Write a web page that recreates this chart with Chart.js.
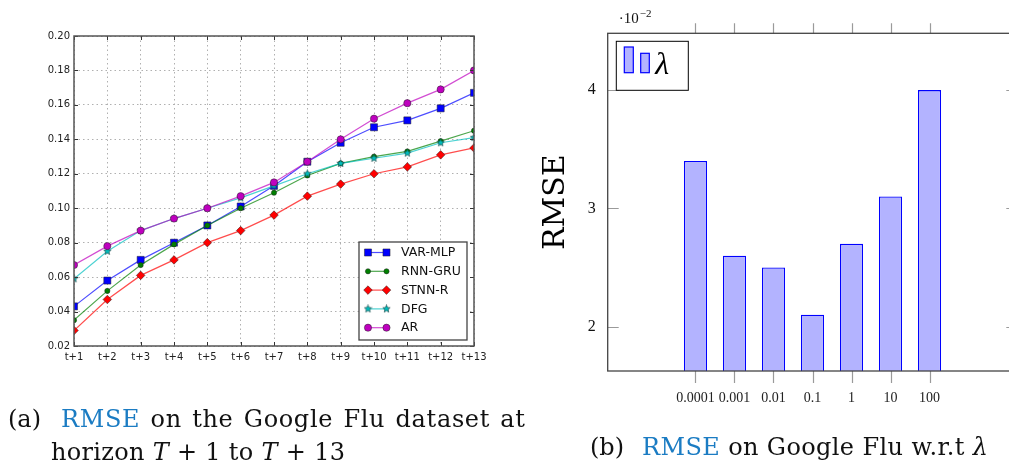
<!DOCTYPE html>
<html>
<head>
<meta charset="utf-8">
<script src="https://cdn.jsdelivr.net/npm/chart.js@4.4.1/dist/chart.umd.min.js"></script>
<style>
  html, body { margin: 0; padding: 0; background: #fff; overflow: hidden; }
  body { width: 1009px; height: 466px; position: relative; }
  #horizonChart { position: absolute; left: 0; top: 0; }
  #lambdaChart { position: absolute; left: 520px; top: 0; }
  #captions { position: absolute; left: 0; top: 0; pointer-events: none; }
</style>
</head>
<body>
<canvas id="horizonChart" width="500" height="375"></canvas>
<canvas id="lambdaChart" width="510" height="410"></canvas>
<svg id="captions" width="1009" height="466" xmlns="http://www.w3.org/2000/svg"
     font-family="DejaVu Serif" font-size="24" fill="#111">
  <text x="8" y="427">(a)</text>
  <text x="61" y="427" textLength="464" lengthAdjust="spacing" word-spacing="2"><tspan fill="#1b7cc3">RMSE</tspan> on the Google Flu dataset at</text>
  <text x="51" y="460" textLength="294" lengthAdjust="spacing">horizon <tspan font-style="italic">T</tspan> + 1 to <tspan font-style="italic">T</tspan> + 13</text>
  <text x="590" y="455">(b)</text>
  <text x="642" y="455" textLength="346" lengthAdjust="spacing"><tspan fill="#1b7cc3">RMSE</tspan> on Google Flu w.r.t <tspan font-style="italic">λ</tspan></text>
</svg>
<script>
// (a) RMSE per forecast horizon
const horizons = ['t+1', 't+2', 't+3', 't+4', 't+5', 't+6', 't+7', 't+8', 't+9', 't+10', 't+11', 't+12', 't+13'];
const varMlp = [0.043, 0.058, 0.070, 0.080, 0.090, 0.101, 0.113, 0.127, 0.138, 0.147, 0.151, 0.158, 0.167];
const rnnGru = [0.035, 0.052, 0.067, 0.079, 0.090, 0.100, 0.109, 0.119, 0.126, 0.130, 0.133, 0.139, 0.145];
const stnnR  = [0.029, 0.047, 0.061, 0.070, 0.080, 0.087, 0.096, 0.107, 0.114, 0.120, 0.124, 0.131, 0.135];
const dfg    = [0.059, 0.075, 0.087, 0.094, 0.100, 0.106, 0.113, 0.120, 0.126, 0.129, 0.132, 0.138, 0.141];
const ar     = [0.067, 0.078, 0.087, 0.094, 0.100, 0.107, 0.115, 0.127, 0.140, 0.152, 0.161, 0.169, 0.180];
const horizonTicks = [0.02, 0.04, 0.06, 0.08, 0.10, 0.12, 0.14, 0.16, 0.18, 0.20];

// (b) RMSE (x 10^-2) against lambda
const lambdas = ['0.0001', '0.001', '0.01', '0.1', '1', '10', '100'];
const lambdaRmse = [3.4, 2.6, 2.5, 2.1, 2.7, 3.1, 4.0];
const rmseTicks = [2, 3, 4];

// small filled star used as the DFG marker
function makeStar(size, fill) {
    const c = document.createElement('canvas');
    c.width = c.height = size;
    const g = c.getContext('2d');
    const R = size / 2 - 0.6, r = R * 0.45;
    g.beginPath();
    for (let k = 0; k < 10; k++) {
        const a = -Math.PI / 2 + k * Math.PI / 5;
        const rad = k % 2 ? r : R;
        g.lineTo(size / 2 + rad * Math.cos(a), size / 2 + rad * Math.sin(a));
    }
    g.closePath();
    g.fillStyle = fill;
    g.fill();
    g.lineWidth = 0.6;
    g.strokeStyle = '#1a3a3a';
    g.stroke();
    return c;
}

const series = [
    { label: 'VAR-MLP', data: varMlp, rgb: '0,0,255',   style: 'rect',    radius: 5 },
    { label: 'RNN-GRU', data: rnnGru, rgb: '0,128,0',   style: 'circle',  radius: 2.6 },
    { label: 'STNN-R',  data: stnnR,  rgb: '255,0,0',   style: 'rectRot', radius: 4.3 },
    { label: 'DFG',     data: dfg,    rgb: '0,191,191', style: makeStar(9, 'rgb(0,191,191)'), radius: 4 },
    { label: 'AR',      data: ar,     rgb: '191,0,191', style: 'circle',  radius: 3.6 }
];

function drawMarker(ctx, s, x, y) {
    if (s.style instanceof HTMLCanvasElement) {
        ctx.drawImage(s.style, x - s.style.width / 2, y - s.style.height / 2);
        return;
    }
    ctx.beginPath();
    if (s.style === 'rect') {
        const h = s.radius * Math.SQRT1_2;
        ctx.rect(x - h, y - h, 2 * h, 2 * h);
    } else if (s.style === 'rectRot') {
        const r = s.radius;
        ctx.moveTo(x - r, y); ctx.lineTo(x, y - r); ctx.lineTo(x + r, y); ctx.lineTo(x, y + r);
        ctx.closePath();
    } else {
        ctx.arc(x, y, s.radius, 0, Math.PI * 2);
    }
    ctx.fillStyle = `rgb(${s.rgb})`;
    ctx.fill();
    ctx.lineWidth = 0.5;
    ctx.strokeStyle = '#222';
    ctx.stroke();
}

// matplotlib-like frame, inward ticks and the legend box in the lower right
const horizonDecor = {
    id: 'horizonDecor',
    afterDraw(chart) {
        const ctx = chart.ctx;
        const { left, right, top, bottom } = chart.chartArea;
        const xs = chart.scales.x, ys = chart.scales.y;
        ctx.save();
        ctx.strokeStyle = '#333';
        ctx.lineWidth = 1;
        ctx.beginPath();
        horizons.forEach((_, i) => {
            const px = Math.round(xs.getPixelForValue(i)) + 0.5;
            ctx.moveTo(px, bottom); ctx.lineTo(px, bottom - 4);
            ctx.moveTo(px, top); ctx.lineTo(px, top + 4);
        });
        horizonTicks.forEach(v => {
            const py = Math.round(ys.getPixelForValue(v)) + 0.5;
            ctx.moveTo(left, py); ctx.lineTo(left + 4, py);
            ctx.moveTo(right, py); ctx.lineTo(right - 4, py);
        });
        ctx.stroke();
        ctx.strokeStyle = '#555';
        ctx.lineWidth = 1.5;
        ctx.strokeRect(left, top, right - left, bottom - top);

        // legend
        const bw = 108, bh = 98;
        const bx = right - 7 - bw, by = bottom - 6 - bh;
        ctx.fillStyle = '#fff';
        ctx.fillRect(bx, by, bw, bh);
        ctx.strokeStyle = '#444';
        ctx.lineWidth = 1.3;
        ctx.strokeRect(bx, by, bw, bh);
        ctx.font = '12.5px "DejaVu Sans"';
        ctx.textBaseline = 'middle';
        series.forEach((s, i) => {
            const y = by + 10.5 + i * 18.8;
            const x0 = bx + 9, x1 = bx + 27.5;
            ctx.strokeStyle = `rgba(${s.rgb},0.7)`;
            ctx.lineWidth = 1.2;
            ctx.beginPath(); ctx.moveTo(x0, y); ctx.lineTo(x1, y); ctx.stroke();
            drawMarker(ctx, s, x0, y);
            drawMarker(ctx, s, x1, y);
            ctx.fillStyle = '#111';
            ctx.fillText(s.label, bx + 42, y + 0.5);
        });
        ctx.restore();
    }
};

new Chart(document.getElementById('horizonChart'), {
    type: 'line',
    data: {
        labels: horizons,
        datasets: series.map((s, i) => ({
            label: s.label,
            data: s.data,
            borderColor: `rgba(${s.rgb},0.7)`,
            borderWidth: 1.2,
            pointStyle: s.style,
            pointRadius: s.radius,
            pointBackgroundColor: `rgb(${s.rgb})`,
            pointBorderColor: '#222',
            pointBorderWidth: 0.5,
            tension: 0,
            fill: false,
            clip: 0,
            order: series.length - i
        }))
    },
    options: {
        responsive: false,
        animation: false,
        layout: { padding: { top: 36, right: 26, left: 0, bottom: 0 } },
        plugins: { legend: { display: false }, tooltip: { enabled: false } },
        scales: {
            x: {
                grid: { color: '#b0b0b0', lineWidth: 1, drawTicks: false },
                border: { display: false, dash: [1.5, 3] },
                ticks: { font: { family: 'DejaVu Sans', size: 10 }, color: '#222', padding: 5, maxRotation: 0, autoSkip: false },
                afterFit: s => { s.height = 29; }
            },
            y: {
                min: 0.02,
                max: 0.20,
                grid: { color: '#b0b0b0', lineWidth: 1, drawTicks: false },
                border: { display: false, dash: [1.5, 3] },
                afterBuildTicks: s => { s.ticks = horizonTicks.map(v => ({ value: v })); },
                ticks: { font: { family: 'DejaVu Sans', size: 10 }, color: '#222', padding: 4, callback: v => v.toFixed(2) },
                afterFit: s => { s.width = 74; }
            }
        }
    },
    plugins: [horizonDecor]
});

// pgfplots-like axes: box lines, ticks, exponent label and the legend
const lambdaDecor = {
    id: 'lambdaDecor',
    afterDraw(chart) {
        const ctx = chart.ctx;
        const { left, right, top, bottom } = chart.chartArea;
        const xs = chart.scales.x, ys = chart.scales.y;
        ctx.save();
        ctx.strokeStyle = '#9a9a9a';
        ctx.lineWidth = 1.2;
        ctx.beginPath();
        rmseTicks.forEach(v => {
            const py = Math.round(ys.getPixelForValue(v)) + 0.5;
            ctx.moveTo(left, py); ctx.lineTo(left + 11, py);
            ctx.moveTo(right, py); ctx.lineTo(right - 11, py);
        });
        lambdas.forEach((_, i) => {
            const px = Math.round(xs.getPixelForValue(i)) + 0.5;
            ctx.moveTo(px, top); ctx.lineTo(px, top - 10);
            ctx.moveTo(px, bottom); ctx.lineTo(px, bottom + 12);
        });
        ctx.stroke();

        ctx.strokeStyle = '#444';
        ctx.lineWidth = 1.3;
        ctx.strokeRect(left, top, right - left, bottom - top);

        // axis multiplier
        ctx.fillStyle = '#111';
        ctx.textBaseline = 'alphabetic';
        ctx.font = '15px "Liberation Serif"';
        const base = '·10';
        ctx.fillText(base, left + 11, top - 10);
        const w = ctx.measureText(base).width;
        ctx.font = '11px "Liberation Serif"';
        ctx.fillText('−2', left + 11 + w + 1, top - 16);

        // legend
        const lx = left + 8.6, ly = top + 8;
        ctx.fillStyle = '#fff';
        ctx.fillRect(lx, ly, 72, 49);
        ctx.strokeStyle = '#000';
        ctx.lineWidth = 1;
        ctx.strokeRect(lx, ly, 72, 49);
        ctx.fillStyle = '#b3b3ff';
        ctx.strokeStyle = '#0000ff';
        ctx.lineWidth = 1.2;
        ctx.fillRect(lx + 8, ly + 5.7, 9, 25.7);
        ctx.strokeRect(lx + 8, ly + 5.7, 9, 25.7);
        ctx.fillRect(lx + 24.4, ly + 12, 8.6, 19.4);
        ctx.strokeRect(lx + 24.4, ly + 12, 8.6, 19.4);
        ctx.fillStyle = '#000';
        ctx.font = 'italic 32px "Liberation Serif"';
        ctx.fillText('λ', lx + 39, ly + 33);
        ctx.restore();
    }
};

new Chart(document.getElementById('lambdaChart'), {
    type: 'bar',
    data: {
        datasets: [{
            label: 'λ',
            data: lambdaRmse.map((v, i) => ({ x: i, y: v })),
            backgroundColor: '#b3b3ff',
            borderColor: '#0000ff',
            borderWidth: 1.3,
            borderSkipped: 'bottom',
            categoryPercentage: 1,
            barPercentage: 0.593
        }]
    },
    options: {
        responsive: false,
        animation: false,
        layout: { padding: { top: 33.3, right: 12.7, left: 0, bottom: 0 } },
        plugins: { legend: { display: false }, tooltip: { enabled: false } },
        scales: {
            x: {
                type: 'linear',
                min: -1.5,
                max: 7.5,
                grid: { display: false, drawTicks: false },
                border: { display: false },
                afterBuildTicks: s => { s.ticks = lambdas.map((_, i) => ({ value: i })); },
                ticks: {
                    font: { family: 'Liberation Serif', size: 14 },
                    color: '#222',
                    padding: 19,
                    maxRotation: 0,
                    autoSkip: false,
                    callback: v => lambdas[v]
                },
                afterFit: s => { s.height = 39; }
            },
            y: {
                min: 1.625,
                max: 4.48,
                grid: { display: false, drawTicks: false },
                border: { display: false },
                afterBuildTicks: s => { s.ticks = rmseTicks.map(v => ({ value: v })); },
                ticks: { font: { family: 'Liberation Serif', size: 16 }, color: '#111', padding: 12 },
                title: {
                    display: true,
                    text: 'RMSE',
                    font: { family: 'DejaVu Serif', size: 30 },
                    color: '#000',
                    padding: { top: 18, bottom: 0 }
                },
                afterFit: s => { s.width = 87.7; }
            }
        }
    },
    plugins: [lambdaDecor]
});
</script>
</body>
</html>
